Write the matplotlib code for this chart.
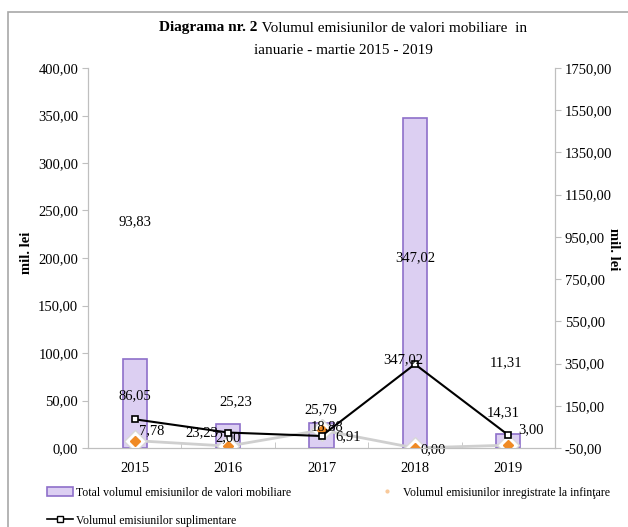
import matplotlib
matplotlib.use("Agg")
import matplotlib.pyplot as plt
from matplotlib.lines import Line2D
from matplotlib.patches import Patch, Rectangle
from matplotlib.offsetbox import TextArea, HPacker, AnchoredOffsetbox
import numpy as np

plt.rcParams['font.family'] = ['Liberation Serif', 'DejaVu Serif']

years = ['2015', '2016', '2017', '2018', '2019']
total = [93.83, 25.23, 25.79, 347.02, 14.31]
inregistrate = [7.78, 2.00, 18.88, 0.00, 3.00]
suplimentare = [86.05, 23.23, 6.91, 347.02, 11.31]

left_ticks = [0, 50, 100, 150, 200, 250, 300, 350, 400]
right_ticks = [-50, 150, 350, 550, 750, 950, 1150, 1350, 1550, 1750]

# label offsets (pixels) relative to marks
off_total = [(0, 137), (8, 22), (-1, 14), (0, -139), (-5, 22)]
off_supl = [(0, 24), (-26, 0), (27, -1), (-12, 4), (-2, 72)]
off_inreg = [(17, 10), (0, 8), (6, 3), (18, -2), (23, 15)]

def fmt(v):
    return f"{v:.2f}".replace('.', ',')

fig = plt.figure(figsize=(6.28, 5.27), dpi=100)
W, H = 628, 527
ax = fig.add_axes([88 / W, 1 - 448 / H, 467 / W, 380 / H])
ax2 = ax.twinx()

# frame around the chart
fig.patches.append(Rectangle((8 / W, -0.05), 1.1, 1 - 12 / H + 0.05, transform=fig.transFigure,
                             fill=False, edgecolor='#a8a8a8', lw=1.2))

x = np.arange(len(years))
gray = '#bfbfbf'

ax.bar(x, total, width=0.26, color='#dccff2', edgecolor='#8e6fca', lw=1.2, zorder=2)
ax.plot(x, inregistrate, color='#cfcfcf', lw=2.0, zorder=3)
ax.plot(x, inregistrate, ls='none', marker='D', ms=11, mfc='white', mec='#d8d8d8', mew=1, zorder=4)
ax.plot(x, inregistrate, ls='none', marker='D', ms=5, mfc='#f08a24', mec='#f08a24', zorder=5)
ax2.plot(x, suplimentare, color='black', lw=1.5, marker='s', ms=5, mfc='white', mec='black', mew=1.2, zorder=6)

ax.set_xlim(-0.5, 4.5)
ax.set_ylim(0, 400)
ax2.set_ylim(-50, 1750)
ax.set_yticks(left_ticks)
ax.set_yticklabels([fmt(v) for v in left_ticks])
ax2.set_yticks(right_ticks)
ax2.set_yticklabels([fmt(v) for v in right_ticks])
ax.set_xticks(x)
ax.set_xticklabels(years)
ax.set_xticks(np.arange(-0.5, 5, 1), minor=True)
ax.tick_params(axis='x', which='major', length=0, pad=10, labelsize=10.5)
ax.tick_params(axis='x', which='minor', length=4, direction='in', color=gray)
ax.tick_params(axis='y', length=4, color=gray, labelsize=10.5, pad=3)
ax2.tick_params(axis='y', length=4, color=gray, labelsize=10.5, pad=3)

ax2.set_zorder(ax.get_zorder() + 1)
ax2.patch.set_visible(False)
for a in (ax, ax2):
    a.spines['top'].set_visible(False)
    for s in ('left', 'right', 'bottom'):
        a.spines[s].set_color(gray)

ax.set_ylabel('mil. lei', fontweight='bold', fontsize=10.5)
ax.yaxis.set_label_coords((33 - 88) / 467, (448 - 253) / 380)
ax2.set_ylabel('mil. lei', fontweight='bold', fontsize=10.5, rotation=270, va='center')
ax2.yaxis.set_label_coords((614 - 88) / 467, (448 - 249) / 380)

kw = dict(textcoords='offset pixels', ha='center', va='center', fontsize=10.5, zorder=10)
for i in range(len(years)):
    ax.annotate(fmt(total[i]), (x[i], total[i]), xytext=off_total[i], **kw)
    ax2.annotate(fmt(suplimentare[i]), (x[i], suplimentare[i]), xytext=off_supl[i], **kw)
    ax.annotate(fmt(inregistrate[i]), (x[i], inregistrate[i]), xytext=off_inreg[i], **kw)

# title
ta1 = TextArea('Diagrama nr. 2', textprops=dict(fontsize=11, fontweight='bold'))
ta2 = TextArea(' Volumul emisiunilor de valori mobiliare  in', textprops=dict(fontsize=11))
pack = HPacker(children=[ta1, ta2], align='baseline', pad=0, sep=0)
ab = AnchoredOffsetbox(loc='center', child=pack, frameon=False,
                       bbox_to_anchor=(343 / W, 1 - 28 / H), bbox_transform=fig.transFigure,
                       pad=0, borderpad=0)
fig.add_artist(ab)
fig.text(343 / W, 1 - 51 / H, 'ianuarie - martie 2015 - 2019', ha='center', va='center', fontsize=11)

h_total = Patch(facecolor='#dccff2', edgecolor='#8e6fca', lw=1.2)
h_supl = Line2D([], [], color='black', lw=1.2, marker='s', ms=4, mfc='white', mec='black')
h_inreg = Line2D([], [], ls='none', marker='o', ms=2, color='#f8c99a')
fig.legend([h_total, h_supl, h_inreg],
           ['Total volumul emisiunilor de valori mobiliare', 'Volumul emisiunilor suplimentare',
            'Volumul emisiunilor inregistrate la infinţare'],
           ncol=2, frameon=False, loc='upper left', bbox_to_anchor=(36 / W, 1 - 476 / H),
           fontsize=8.5, handlelength=2.2, handletextpad=0.3, columnspacing=7.0, labelspacing=1.35)

fig.savefig('out.png', dpi=100)
